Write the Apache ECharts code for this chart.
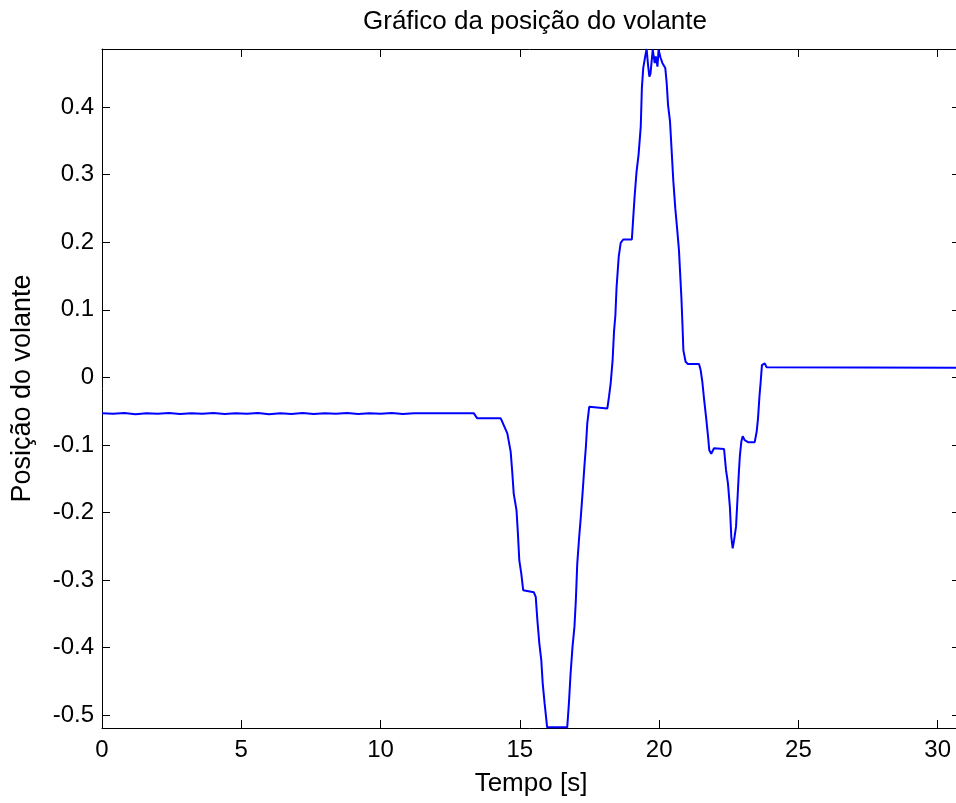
<!DOCTYPE html>
<html>
<head>
<meta charset="utf-8">
<script src="https://cdn.jsdelivr.net/npm/echarts@6/dist/echarts.min.js"></script>
<style>
html,body{margin:0;padding:0;background:#fff;}
#chart{width:956px;height:803px;}
</style>
</head>
<body>
<div id="chart"></div>
<script>
// ---- data ----
const titleText = 'Gráfico da posição do volante';
const xLabelText = 'Tempo [s]';
const yLabelText = 'Posição do volante';
const xTicks = [0, 5, 10, 15, 20, 25, 30];
const yTicks = [-0.5, -0.4, -0.3, -0.2, -0.1, 0, 0.1, 0.2, 0.3, 0.4];
const xRange = [0, 30.8];
const yRange = [-0.519, 0.486];

const timeValues = [
  0, 0.4, 0.8, 1.2, 1.6, 2.0, 2.4, 2.8, 3.2, 3.6, 4.0, 4.4, 4.8, 5.2, 5.6, 6.0,
  6.4, 6.8, 7.2, 7.6, 8.0, 8.4, 8.8, 9.2, 9.6, 10.0, 10.4, 10.8, 11.2,
  13.35, 13.47, 14.31, 14.37, 14.55, 14.67, 14.73, 14.78, 14.88, 14.93, 14.98,
  15.05, 15.12, 15.50, 15.57, 15.63, 15.70, 15.77, 15.82, 15.89, 15.98,
  16.70, 16.76, 16.82, 16.89, 16.96, 17.01, 17.06, 17.13, 17.18, 17.25, 17.32,
  17.37, 17.42, 17.49, 17.56, 18.14, 18.20, 18.26, 18.33, 18.38, 18.43, 18.47,
  18.55, 18.62, 18.71, 19.02, 19.07, 19.12, 19.19, 19.26, 19.34, 19.38, 19.43,
  19.50, 19.55, 19.60, 19.65, 19.69, 19.77, 19.84, 19.88, 19.94, 19.98, 20.05,
  20.12, 20.22, 20.27, 20.32, 20.39, 20.44, 20.51, 20.58, 20.65, 20.71, 20.80,
  20.84, 20.87, 20.95, 21.03, 21.43, 21.49, 21.55, 21.61, 21.68, 21.75, 21.80,
  21.87, 21.97, 22.33, 22.40, 22.47, 22.54, 22.59, 22.64, 22.69, 22.76, 22.81,
  22.86, 22.90, 22.95, 23.00, 23.07, 23.19, 23.43, 23.50, 23.55, 23.60, 23.65,
  23.69, 23.79, 23.86, 30.8
];
const positionValues = [
  -0.0533, -0.0540, -0.0528, -0.0545, -0.0530, -0.0538, -0.0526, -0.0544, -0.0531, -0.0540, -0.0527, -0.0543, -0.0533, -0.0539, -0.0527, -0.0545,
  -0.0530, -0.0541, -0.0528, -0.0544, -0.0532, -0.0538, -0.0526, -0.0542, -0.0531, -0.0539, -0.0528, -0.0543, -0.0533,
  -0.0533, -0.0607, -0.0607, -0.0658, -0.083, -0.110, -0.142, -0.172, -0.197, -0.231, -0.271,
  -0.290, -0.315, -0.318, -0.325, -0.360, -0.394, -0.419, -0.453, -0.483, -0.518,
  -0.518, -0.483, -0.439, -0.399, -0.369, -0.330, -0.276, -0.236, -0.211, -0.172, -0.130,
  -0.103, -0.068, -0.0436, -0.0425, -0.046, -0.0287, -0.0089, 0.0256, 0.0676, 0.0923, 0.132,
  0.179, 0.199, 0.204, 0.204, 0.236, 0.268, 0.305, 0.329, 0.371, 0.428, 0.458,
  0.475, 0.486, 0.463, 0.445, 0.450, 0.485, 0.465, 0.475, 0.460, 0.485, 0.473,
  0.465, 0.458, 0.436, 0.403, 0.379, 0.342, 0.290, 0.250, 0.218, 0.189, 0.117,
  0.075, 0.040, 0.023, 0.0197, 0.0197, 0.0108, -0.0065, -0.031, -0.057, -0.085, -0.108,
  -0.113, -0.105, -0.106, -0.137, -0.157, -0.192, -0.236, -0.253, -0.241, -0.221, -0.182,
  -0.142, -0.115, -0.0954, -0.087, -0.093, -0.0959, -0.0959, -0.0806, -0.0607, -0.0287, -0.004,
  0.0182, 0.0207, 0.0148, 0.0142
];

// ---- chart ----
const FONT = 'Liberation Sans, Arial, sans-serif';
const seriesData = timeValues.map((t, i) => [t, positionValues[i]]);
const fmtY = v => String(Math.round(v * 10) / 10);

const chart = echarts.init(document.getElementById('chart'), null, {renderer: 'canvas'});
const axisLineStyle = {color: '#000', width: 1};
chart.setOption({
  animation: false,
  backgroundColor: '#fff',
  title: {
    text: titleText, left: 530, top: 4, textAlign: 'center',
    textStyle: {fontFamily: FONT, fontSize: 26, fontWeight: 'normal', color: '#000'}
  },
  grid: {left: 102, top: 49, width: 858, height: 679, containLabel: false, outerBoundsMode: 'none'},
  xAxis: [{
    type: 'value', min: xRange[0], max: xRange[1], position: 'bottom',
    name: xLabelText, nameLocation: 'middle', nameGap: 43,
    nameTextStyle: {fontFamily: FONT, fontSize: 26, color: '#000'},
    axisLine: {show: true, onZero: false, lineStyle: axisLineStyle},
    axisTick: {show: true, inside: true, length: 8, customValues: xTicks, lineStyle: axisLineStyle},
    axisLabel: {show: true, customValues: xTicks, fontFamily: FONT, fontSize: 24, color: '#000', margin: 10},
    splitLine: {show: false}
  }, {
    type: 'value', min: xRange[0], max: xRange[1], position: 'top',
    axisLine: {show: true, onZero: false, lineStyle: axisLineStyle},
    axisTick: {show: true, inside: true, length: 8, customValues: xTicks, lineStyle: axisLineStyle},
    axisLabel: {show: false},
    splitLine: {show: false}
  }],
  yAxis: [{
    type: 'value', min: yRange[0], max: yRange[1], position: 'left',
    name: yLabelText, nameLocation: 'middle', nameGap: 66, nameRotate: 90,
    nameTextStyle: {fontFamily: FONT, fontSize: 27, color: '#000'},
    axisLine: {show: true, onZero: false, lineStyle: axisLineStyle},
    axisTick: {show: true, inside: true, length: 8, customValues: yTicks, lineStyle: axisLineStyle},
    axisLabel: {show: true, customValues: yTicks, formatter: fmtY, fontFamily: FONT, fontSize: 24, color: '#000', margin: 8},
    splitLine: {show: false}
  }, {
    type: 'value', min: yRange[0], max: yRange[1], position: 'right',
    axisLine: {show: true, onZero: false, lineStyle: axisLineStyle},
    axisTick: {show: true, inside: true, length: 8, customValues: yTicks, lineStyle: axisLineStyle},
    axisLabel: {show: false},
    splitLine: {show: false}
  }],
  series: [{
    type: 'line', xAxisIndex: 0, yAxisIndex: 0,
    data: seriesData, showSymbol: false, symbol: 'none', clip: true,
    lineStyle: {color: '#0000ff', width: 2},
    itemStyle: {color: '#0000ff'}
  }]
});
</script>
</body>
</html>
